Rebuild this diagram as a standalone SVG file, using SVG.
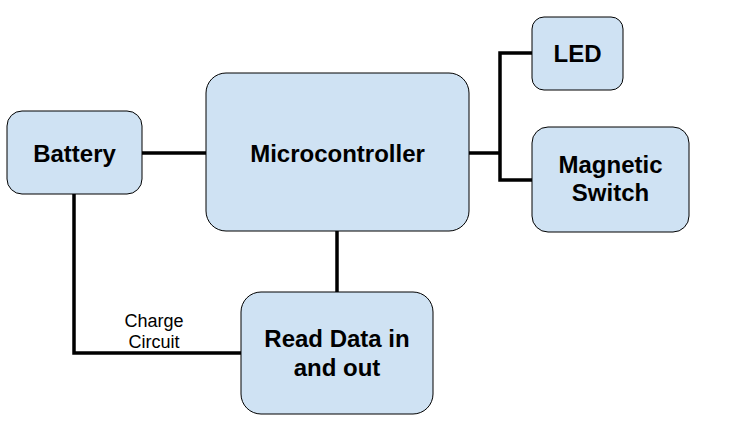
<svg xmlns="http://www.w3.org/2000/svg" width="731" height="448" viewBox="0 0 731 448">
<style>
.box{fill:#cfe2f3;stroke:#000;stroke-width:1}
.lbl{font-family:"Liberation Sans",Arial,sans-serif;font-weight:bold;font-size:24px;text-anchor:middle;fill:#000}
.sm{font-family:"Liberation Sans",Arial,sans-serif;font-size:18px;text-anchor:middle;fill:#000}
.wire{fill:none;stroke:#000;stroke-width:3.5}
</style>
<rect width="731" height="448" fill="#fff"/>
<g id="connectors">
<path class="wire" d="M142 153H206"/>
<path class="wire" d="M469 153H500"/>
<path class="wire" d="M532 53H500V180H532"/>
<path class="wire" d="M337 231V292"/>
<path class="wire" d="M74 194V353H241"/>
<text class="sm" x="154" y="327">Charge</text>
<text class="sm" x="154" y="348">Circuit</text>
</g>
<g id="battery">
<rect class="box" x="7" y="111" width="135" height="83" rx="15"/>
<text class="lbl" x="74.5" y="162">Battery</text>
</g>
<g id="microcontroller">
<rect class="box" x="206" y="73" width="263" height="158" rx="20"/>
<text class="lbl" x="337.5" y="162">Microcontroller</text>
</g>
<g id="led">
<rect class="box" x="532" y="17" width="91" height="73" rx="12"/>
<text class="lbl" x="577.5" y="62">LED</text>
</g>
<g id="magnetic-switch">
<rect class="box" x="532" y="127" width="157" height="105" rx="16"/>
<text class="lbl" x="610.5" y="173">Magnetic</text>
<text class="lbl" x="610.5" y="201">Switch</text>
</g>
<g id="read-data">
<rect class="box" x="241" y="292" width="192" height="122" rx="20"/>
<text class="lbl" x="337" y="347">Read Data in</text>
<text class="lbl" x="337" y="376">and out</text>
</g>
</svg>
